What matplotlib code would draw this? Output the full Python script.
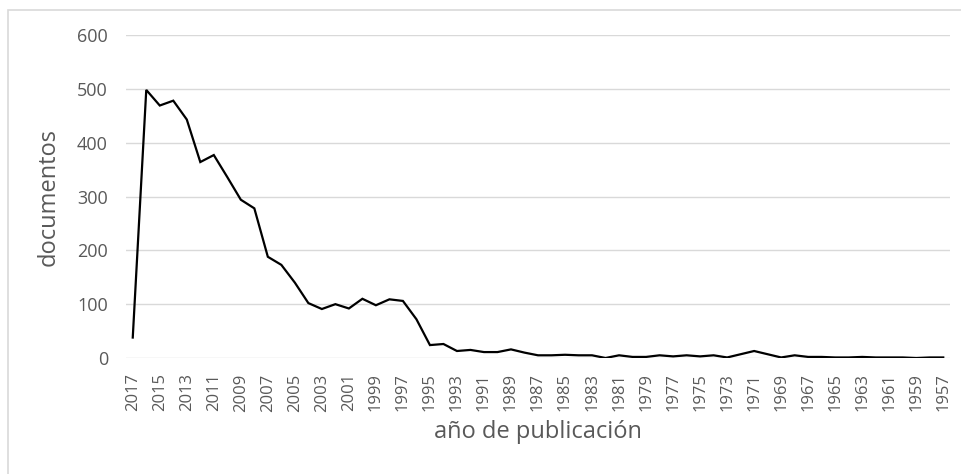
import matplotlib.pyplot as plt
from matplotlib.patches import Rectangle

# publication years, newest first (as in the original chart)
years = list(range(2017, 1956, -1))
docs = [38, 498, 469, 478, 443, 364, 377, 336, 294, 278,
        188, 173, 140, 102, 91, 100, 92, 110, 98, 109,
        106, 72, 24, 26, 13, 15, 11, 11, 16, 10,
        5, 5, 6, 5, 5, 0, 5, 2, 2, 5,
        3, 5, 3, 5, 1, 7, 13, 7, 1, 5,
        2, 2, 1, 1, 2, 1, 1, 1, 0, 1, 1]
yticks = [0, 100, 200, 300, 400, 500, 600]

plt.rcParams['font.family'] = ['Open Sans', 'DejaVu Sans']
grey = '#595959'

fig = plt.figure(figsize=(9.61, 4.74), dpi=100)
ax = fig.add_axes([126 / 961, 1 - 358 / 474, 824 / 961, 323 / 474])

# chart-area border like the spreadsheet export
fig.patches.append(Rectangle((8 / 961, -0.05), 1.0, 1 - 10 / 474 + 0.05,
                             transform=fig.transFigure, fill=False,
                             edgecolor='#d9d9d9', linewidth=1.2))

x = list(range(len(years)))
ax.plot(x, docs, color='black', linewidth=1.6, solid_joinstyle='miter')

ax.set_xlim(-0.5, len(years) - 0.5)
ax.set_ylim(0, 600)
ax.set_yticks(yticks)
ax.set_xticks(x[::2])
ax.set_xticklabels([str(y) for y in years[::2]], rotation=90)
ax.tick_params(axis='both', length=0, labelcolor=grey)
ax.tick_params(axis='x', pad=11, labelsize=12)
ax.tick_params(axis='y', pad=13, labelsize=13)
ax.grid(axis='y', color='#d9d9d9', linewidth=1.0)
ax.set_axisbelow(True)
for s in ax.spines.values():
    s.set_visible(False)

ax.set_ylabel('documentos', fontsize=17, color=grey, labelpad=12)
ax.set_xlabel('año de publicación', fontsize=17, color=grey, labelpad=6)

fig.savefig('out.png', dpi=100)
